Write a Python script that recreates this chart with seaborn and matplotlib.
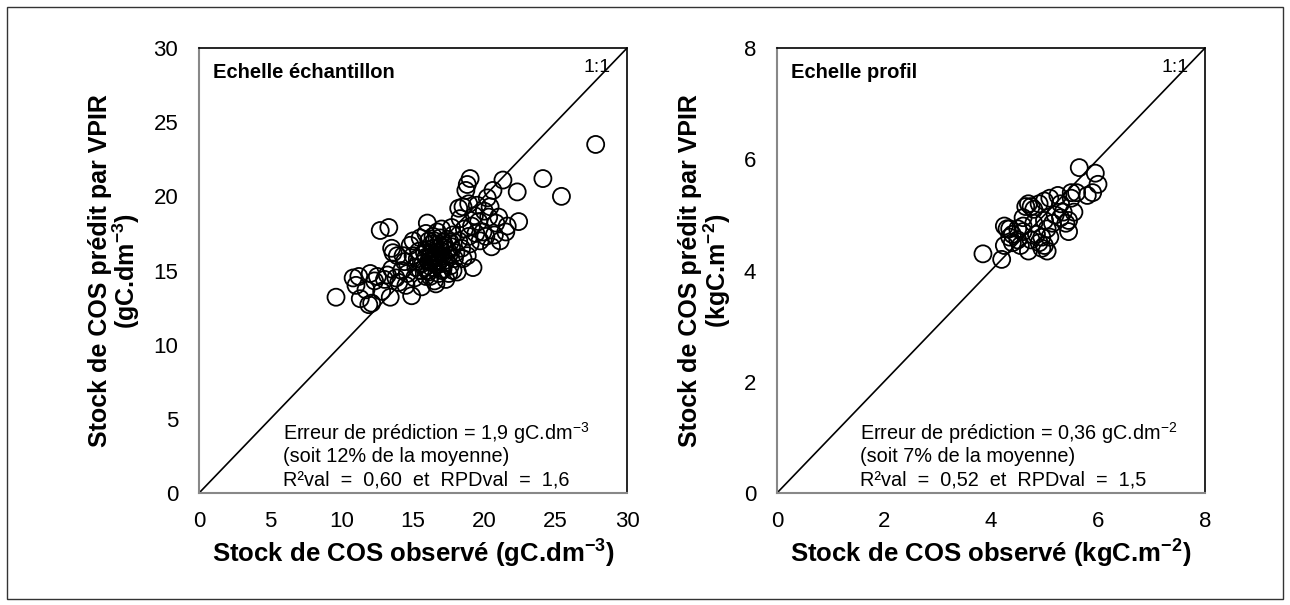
import matplotlib
matplotlib.use("Agg")
import matplotlib.pyplot as plt
import matplotlib.patches as mpatches
import seaborn as sns
import pandas as pd

# observed / predicted values, sample scale (gC.dm-3)
obs_echantillon = [9.6, 10.8, 11.0, 11.2, 11.3, 11.7, 11.9, 12.1, 12.3, 12.5, 12.0, 12.8, 12.7, 13.3, 13.0, 13.4,
                   13.2, 13.5, 13.8, 13.9, 13.6, 13.5,
                   14.0, 14.2, 14.4, 14.6, 14.8, 15.0, 14.9, 15.2, 15.1, 15.4, 15.5, 15.6, 15.8, 15.9, 15.3, 15.7,
                   14.5, 14.3, 15.0, 15.5, 15.9, 16.0, 16.0,
                   16.1, 16.2, 16.3, 16.4, 16.5, 16.6, 16.7, 16.8, 16.9, 17.0, 16.2, 16.5, 16.8, 17.1, 17.2, 17.3,
                   17.4, 17.5, 17.6, 17.7, 17.8, 17.9, 18.0, 16.1, 16.4, 16.7, 17.0, 16.3, 16.6, 16.9, 17.2, 17.5,
                   17.8, 18.1, 16.0, 16.5, 17.1, 17.4, 16.2, 16.8, 17.6, 17.3, 16.6, 15.9, 16.4, 17.0, 16.7, 17.1,
                   16.3, 16.9, 15.8, 16.1, 17.7, 18.2,
                   18.3, 18.5, 18.7, 18.8, 19.0, 18.6, 18.9, 19.1, 19.3, 19.5, 18.4, 18.8, 19.0, 19.2, 18.5, 19.4,
                   19.7, 19.9, 20.0, 20.2, 20.4, 20.6, 20.8, 20.5, 20.7, 21.0, 21.3, 21.5, 21.6, 21.1, 22.3, 22.4,
                   24.1, 25.4, 27.8, 18.2, 18.9, 19.6, 20.3, 20.1]
pred_echantillon = [13.2, 14.5, 14.0, 14.6, 13.1, 13.7, 12.7, 12.8, 14.3, 14.6, 14.8, 13.6, 17.7, 17.9, 14.4, 13.2,
                    14.7, 15.1, 14.5, 16.0, 16.2, 16.5,
                    14.2, 15.0, 15.6, 14.8, 16.7, 17.0, 13.3, 15.2, 14.5, 16.3, 15.0, 13.9, 16.2, 14.6, 15.8, 15.5,
                    14.0, 16.0, 16.0, 17.2, 17.5, 18.2, 15.0,
                    15.6, 16.1, 15.2, 16.5, 15.8, 16.2, 15.4, 16.8, 15.9, 16.3, 14.6, 14.3, 14.8, 15.1, 16.7, 15.7,
                    17.1, 16.0, 15.3, 16.6, 17.4, 15.8, 16.2, 17.0, 17.3, 17.6, 17.8, 16.8, 16.0, 16.6, 15.5, 14.8,
                    15.0, 14.9, 16.4, 17.0, 16.9, 16.4, 15.9, 15.6, 16.9, 14.4, 14.1, 15.9, 15.5, 15.0, 16.0, 16.0,
                    16.2, 17.2, 15.2, 14.9, 17.9, 17.0,
                    18.5, 19.3, 20.4, 20.8, 21.2, 17.8, 17.3, 18.0, 18.7, 19.4, 16.5, 16.0, 16.8, 15.2, 15.8, 17.5,
                    17.0, 17.6, 19.0, 19.9, 19.3, 20.4, 18.2, 16.6, 17.4, 18.6, 21.1, 17.6, 18.0, 17.0, 20.3, 18.3,
                    21.2, 20.0, 23.5, 19.2, 19.5, 18.3, 18.6, 17.3]

# observed / predicted values, profile scale (kgC.m-2)
obs_profil = [3.85, 4.2, 4.25, 4.25, 4.3, 4.35, 4.4, 4.5, 4.55, 4.6, 4.6, 4.65, 4.7, 4.7, 4.75, 4.8, 4.85, 4.8,
              4.9, 4.9, 4.95, 4.95, 5.0, 5.0, 5.05, 5.05, 5.1, 5.15, 5.2, 5.25, 5.3, 5.35, 5.4, 5.45, 5.45, 5.5,
              5.5, 5.6, 5.65, 5.8, 5.9, 5.95, 6.0, 4.5, 4.4, 4.75, 5.1, 5.3, 4.6, 5.0, 5.55, 4.35]
pred_profil = [4.3, 4.2, 4.45, 4.8, 4.75, 4.6, 4.65, 4.75, 4.45, 4.7, 4.8, 5.15, 5.2, 4.35, 5.15, 4.85, 4.65, 5.1,
               5.2, 4.5, 4.4, 4.6, 4.9, 5.25, 4.35, 4.75, 5.3, 4.85, 5.0, 5.35, 4.95, 5.05, 4.85, 4.7, 4.9, 5.3,
               5.4, 5.4, 5.85, 5.35, 5.4, 5.75, 5.55, 4.55, 4.5, 4.55, 4.6, 5.2, 4.95, 4.45, 5.05, 4.75]

df_ech = pd.DataFrame({"obs": obs_echantillon, "pred": pred_echantillon})
df_pro = pd.DataFrame({"obs": obs_profil, "pred": pred_profil})

sns.set_style("white")
plt.rcParams["font.family"] = ["Liberation Sans", "DejaVu Sans"]
plt.rcParams["mathtext.default"] = "regular"
plt.rcParams["text.color"] = "black"
plt.rcParams["axes.labelcolor"] = "black"
plt.rcParams["xtick.labelcolor"] = "black"
plt.rcParams["ytick.labelcolor"] = "black"

fig = plt.figure(figsize=(12.9, 6.05), dpi=100)
ax1 = fig.add_axes([0.1543, 0.1851, 0.3318, 0.7355])
ax2 = fig.add_axes([0.6023, 0.1851, 0.3318, 0.7355])

# outer frame of the figure
fig.patches.append(mpatches.Rectangle((0.0055, 0.01), 0.989, 0.978, transform=fig.transFigure,
                                      fill=False, edgecolor="#333333", linewidth=1.0))

panels = [
    (ax1, df_ech, 30, [0, 5, 10, 15, 20, 25, 30], "Echelle échantillon",
     "Stock de COS observé (gC.dm$^{-3}$)", "Stock de COS prédit par VPIR\n(gC.dm$^{-3}$)",
     ["Erreur de prédiction = 1,9 gC.dm$^{-3}$", "(soit 12% de la moyenne)",
      "R²val  =  0,60  et  RPDval  =  1,6"]),
    (ax2, df_pro, 8, [0, 2, 4, 6, 8], "Echelle profil",
     "Stock de COS observé (kgC.m$^{-2}$)", "Stock de COS prédit par VPIR\n(kgC.m$^{-2}$)",
     ["Erreur de prédiction = 0,36 gC.dm$^{-2}$", "(soit 7% de la moyenne)",
      "R²val  =  0,52  et  RPDval  =  1,5"]),
]

for ax, df, vmax, ticks, titre, xlab, ylab, notes in panels:
    ax.plot([0, vmax], [0, vmax], color="black", linewidth=1.2, zorder=1)
    sns.scatterplot(data=df, x="obs", y="pred", ax=ax, s=150, marker="o",
                    facecolor="none", edgecolor="black", linewidth=1.3, zorder=2)
    ax.set_xlim(0, vmax)
    ax.set_ylim(0, vmax)
    ax.set_xticks(ticks)
    ax.set_yticks(ticks)
    ax.tick_params(axis="both", direction="out", length=6, width=1.2, color="#888888",
                   labelcolor="black", labelsize=16)
    ax.tick_params(axis="y", pad=9)
    ax.tick_params(axis="x", pad=7)
    for side in ["left", "bottom"]:
        ax.spines[side].set_color("#888888")
        ax.spines[side].set_linewidth(1.5)
    for side in ["top", "right"]:
        ax.spines[side].set_color("black")
        ax.spines[side].set_linewidth(1.2)
    ax.set_xlabel(xlab, fontsize=18.5, fontweight="bold", labelpad=4, color="black")
    ax.set_ylabel(ylab, fontsize=18, fontweight="bold", labelpad=8, linespacing=0.95, color="black")
    ax.text(0.033, 0.944, titre, transform=ax.transAxes, fontsize=14.5, fontweight="bold",
            ha="left", va="center", color="black")
    ax.text(0.93, 0.957, "1:1", transform=ax.transAxes, fontsize=14, ha="center", va="center",
            color="black")
    for note, yf in zip(notes, [0.135, 0.083, 0.030]):
        ax.text(0.195, yf, note, transform=ax.transAxes, fontsize=14.3, ha="left", va="center",
                color="black")

fig.savefig("out.png", dpi=100)
